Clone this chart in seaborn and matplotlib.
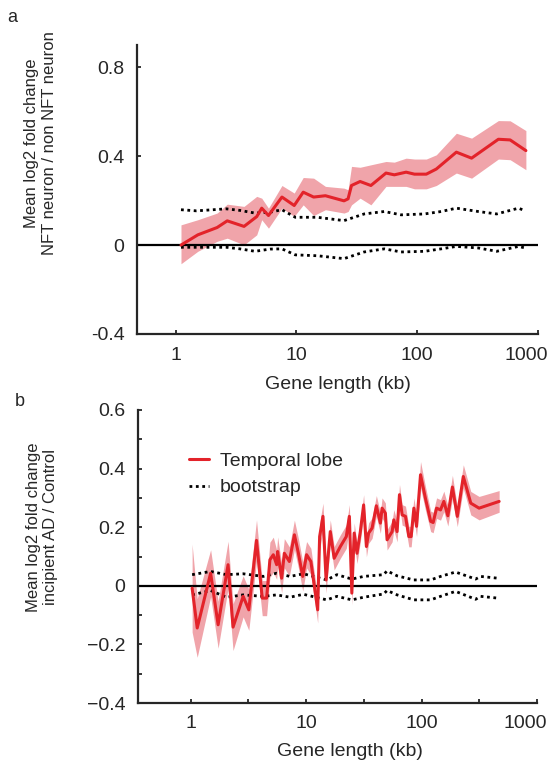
import numpy as np
import pandas as pd
import matplotlib
matplotlib.use("Agg")
import matplotlib.pyplot as plt
import matplotlib.transforms as mtransforms
import seaborn as sns
from matplotlib.ticker import FixedLocator, FixedFormatter, NullFormatter

# ---- panel a : NFT neuron / non NFT neuron ----
a_len = [1.11, 1.53, 2.21, 2.68, 3.69, 4.70, 5.17, 5.88, 7.6, 9.6, 11.4, 13.9, 17.4, 24.8,
         26.8, 28.6, 33.7, 41.4, 55.2, 64.7, 81, 95, 119, 144, 211, 282, 470, 588, 794]
a_mean = [0.000, 0.046, 0.079, 0.109, 0.084, 0.128, 0.166, 0.133, 0.216, 0.178, 0.238, 0.216,
          0.222, 0.199, 0.208, 0.268, 0.286, 0.268, 0.324, 0.316, 0.328, 0.319, 0.319, 0.342,
          0.418, 0.391, 0.476, 0.473, 0.425]
a_upper = [0.091, 0.114, 0.144, 0.184, 0.174, 0.219, 0.211, 0.166, 0.268, 0.234, 0.304, 0.301,
           0.264, 0.256, 0.249, 0.354, 0.350, 0.361, 0.376, 0.373, 0.391, 0.387, 0.387, 0.406,
           0.503, 0.481, 0.560, 0.559, 0.515]
a_lower = [-0.084, -0.028, 0.017, 0.031, 0.001, 0.046, 0.114, 0.076, 0.166, 0.129, 0.181, 0.133,
           0.159, 0.144, 0.151, 0.181, 0.211, 0.181, 0.264, 0.264, 0.264, 0.253, 0.253, 0.268,
           0.324, 0.301, 0.387, 0.384, 0.339]

a_boot_len = [1.11, 1.49, 2.64, 3.41, 4.55, 6.07, 7.60, 9.8, 14.9, 24.8, 36.4, 53.4, 73.6,
              115, 158, 211, 320, 455, 690, 784]
a_boot_hi = [0.159, 0.154, 0.163, 0.156, 0.144, 0.148, 0.159, 0.125, 0.125, 0.110, 0.140,
             0.151, 0.136, 0.140, 0.151, 0.166, 0.151, 0.140, 0.166, 0.154]
a_boot_lo = [-0.010, -0.010, -0.010, -0.017, -0.028, -0.018, -0.017, -0.044, -0.048, -0.061,
             -0.031, -0.017, -0.031, -0.028, -0.017, -0.006, -0.013, -0.028, -0.006, -0.013]

# ---- panel b : incipient AD / Control ----
b_len = [1.03, 1.14, 1.49, 1.73, 2.11, 2.33, 2.85, 3.19, 3.72, 4.17, 4.55, 4.86, 5.20, 5.56,
         5.67, 6.14, 6.48, 7.16, 7.92, 8.58, 9.35, 10.1, 11.0, 11.8, 12.6, 13.1, 14.0, 14.9,
         16.2, 17.5, 19.8, 22.3, 23.7, 24.9, 26.1, 27.6, 29.5, 31.5, 33.3, 34.8, 37.3, 40.6,
         44.0, 45.5, 48.6, 50.3, 55.6, 57.5, 61.4, 64.4, 67.9, 72.6, 77.6, 81.3, 85.8, 90.5,
         98.0, 108, 120, 126, 135, 146, 156, 169, 185, 204, 230, 267, 315, 470]
b_mean = [-0.008, -0.144, 0.043, -0.133, 0.072, -0.141, -0.036, -0.082, 0.155, -0.042,
          -0.042, 0.089, 0.106, 0.072, 0.117, 0.026, 0.111, 0.083, 0.174, 0.111, 0.032, 0.106,
          0.083, -0.002, -0.082, 0.168, 0.237, 0.020, 0.185, 0.094, 0.134, 0.168, 0.237,
          -0.025, 0.180, 0.111, 0.185, 0.276, 0.134, 0.180, 0.197, 0.273, 0.214, 0.265, 0.248,
          0.157, 0.185, 0.225, 0.185, 0.311, 0.242, 0.237, 0.168, 0.168, 0.265, 0.203, 0.379,
          0.299, 0.220, 0.216, 0.265, 0.259, 0.288, 0.239, 0.337, 0.237, 0.373, 0.282, 0.265,
          0.288]
b_sem = [0.15, 0.10, 0.08, 0.08, 0.08, 0.08, 0.07, 0.07, 0.07, 0.06, 0.06, 0.06, 0.06, 0.05,
         0.05, 0.05, 0.05, 0.05, 0.05, 0.05, 0.05, 0.045, 0.045, 0.045, 0.045, 0.045, 0.045,
         0.045, 0.04, 0.04, 0.04, 0.04, 0.04, 0.04, 0.035, 0.035, 0.035, 0.035, 0.035, 0.035,
         0.035, 0.035, 0.035, 0.035, 0.035, 0.035, 0.035, 0.035, 0.035, 0.035, 0.035, 0.035,
         0.035, 0.035, 0.035, 0.035, 0.045, 0.04, 0.035, 0.035, 0.035, 0.035, 0.035, 0.035,
         0.04, 0.035, 0.04, 0.04, 0.04, 0.037]

b_boot_len = [1.03, 1.49, 2.04, 2.85, 4.26, 5.56, 7.25, 9.49, 15.1, 18.5, 24.9, 31.5, 46.9,
              50.3, 61.4, 85.8, 120, 146, 197, 294, 325, 456]
b_boot_hi = [0.038, 0.049, 0.038, 0.041, 0.032, 0.043, 0.032, 0.041, 0.020, 0.038, 0.023,
             0.032, 0.038, 0.051, 0.034, 0.020, 0.020, 0.032, 0.047, 0.023, 0.032, 0.026]
b_boot_lo = [-0.031, -0.016, -0.039, -0.031, -0.036, -0.031, -0.039, -0.029, -0.048, -0.036,
             -0.048, -0.039, -0.028, -0.016, -0.031, -0.048, -0.048, -0.036, -0.019, -0.046,
             -0.036, -0.042]

RED = "#e3232a"
BAND = "#f0a4aa"
DOT = (0, (1, 1.3))
TICK_FS = 14
LABEL_FS = 14
YLABEL_FS = 12

sns.set_style("ticks")
plt.rcParams["font.family"] = ["Liberation Sans", "DejaVu Sans"]
plt.rcParams["font.size"] = 12

fig = plt.figure(figsize=(5.56, 7.65), dpi=100)
ax1 = fig.add_axes([137 / 556, 1 - 334 / 765, 401 / 556, 289 / 765])
ax2 = fig.add_axes([138 / 556, 1 - 703 / 765, 399 / 556, 293 / 765])


def draw_panel(ax, x, mean, lo, hi, bx, bhi, blo):
    ax.fill_between(x, lo, hi, color=BAND, lw=0, zorder=1)
    ax.axhline(0, color="black", lw=1.6, zorder=2)
    df = pd.DataFrame({"len": x, "val": mean})
    sns.lineplot(data=df, x="len", y="val", ax=ax, color=RED, lw=2.2,
                 label="Temporal lobe", zorder=4)
    bdf = pd.DataFrame({"len": bx, "hi": bhi, "lo": blo})
    sns.lineplot(data=bdf, x="len", y="hi", ax=ax, color="black", lw=2,
                 linestyle=DOT, label="bootstrap", zorder=3)
    sns.lineplot(data=bdf, x="len", y="lo", ax=ax, color="black", lw=2,
                 linestyle=DOT, zorder=3)
    ax.set_xscale("log")
    sns.despine(ax=ax)
    for s in ["left", "bottom"]:
        ax.spines[s].set_linewidth(1.6)
    ax.tick_params(direction="in", length=3, width=1.3, labelsize=TICK_FS, pad=9)
    ax.tick_params(which="minor", direction="in", length=3, width=1.3)
    ax.set_xlabel("Gene length (kb)", fontsize=LABEL_FS)
    ax.xaxis.set_major_locator(FixedLocator([1, 10, 100, 1000]))
    ax.xaxis.set_major_formatter(FixedFormatter(["1", "10", "100", "1000"]))


draw_panel(ax1, a_len, a_mean, a_lower, a_upper, a_boot_len, a_boot_hi, a_boot_lo)
ax1.set_xlim(0.48, 1000)
ax1.set_ylim(-0.4, 0.9)
ax1.xaxis.set_minor_locator(FixedLocator([]))
ax1.yaxis.set_major_locator(FixedLocator([-0.4, 0, 0.4, 0.8]))
ax1.yaxis.set_major_formatter(FixedFormatter(["-0.4", "0", "0.4", "0.8"]))
ax1.set_ylabel("Mean log2 fold change\nNFT neuron / non NFT neuron", fontsize=YLABEL_FS)
ax1.yaxis.set_label_coords(-0.2, 0.66)
ax1.xaxis.set_label_coords(0.5, -0.145)
ax1.get_legend().remove()

draw_panel(ax2, b_len, b_mean, np.array(b_mean) - np.array(b_sem),
           np.array(b_mean) + np.array(b_sem), b_boot_len, b_boot_hi, b_boot_lo)
ax2.set_xlim(0.35, 1000)
ax2.set_ylim(-0.4, 0.6)
ax2.xaxis.set_minor_locator(FixedLocator([10 ** 0.5, 10 ** 1.5, 10 ** 2.5]))
ax2.xaxis.set_minor_formatter(NullFormatter())
ax2.yaxis.set_major_locator(FixedLocator([-0.4, -0.2, 0, 0.2, 0.4, 0.6]))
ax2.yaxis.set_major_formatter(FixedFormatter(["\u22120.4", "\u22120.2", "0", "0.2", "0.4", "0.6"]))
ax2.yaxis.set_minor_locator(FixedLocator([-0.3, -0.1, 0.1, 0.3, 0.5]))
ax2.set_ylabel("Mean log2 fold change\nincipient AD / Control", fontsize=YLABEL_FS)
ax2.yaxis.set_label_coords(-0.2, 0.60)
ax2.xaxis.set_label_coords(0.53, -0.135)
ax2.legend(loc="upper left", bbox_to_anchor=(0.085, 0.915), frameon=False, fontsize=LABEL_FS,
           handlelength=1.0, handletextpad=0.57, labelspacing=0.45)

# keep the "1000" labels inside the figure edge
shift = mtransforms.ScaledTranslation(-12 / 100, 0, fig.dpi_scale_trans)
for ax in (ax1, ax2):
    last = ax.get_xticklabels()[-1]
    last.set_transform(last.get_transform() + shift)

fig.text(7 / 556, 1 - 22 / 765, "a", fontsize=13)
fig.text(15 / 556, 1 - 406 / 765, "b", fontsize=13)

fig.savefig("out.png", dpi=100)
